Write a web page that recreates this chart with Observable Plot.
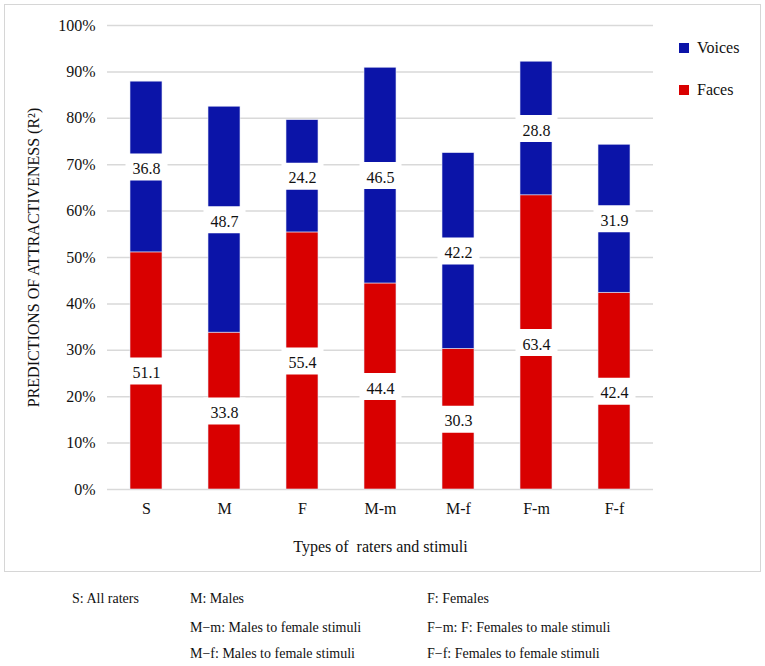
<!DOCTYPE html>
<html>
<head>
<meta charset="utf-8">
<script src="https://cdn.jsdelivr.net/npm/d3@7"></script>
<script src="https://cdn.jsdelivr.net/npm/@observablehq/plot@0.6"></script>
<style>
  body { margin: 0; background: #fff; font-family: "Liberation Serif", "Times New Roman", serif; }
  #wrap { position: relative; width: 765px; height: 666px; }
  #border { position: absolute; left: 4px; top: 4px; width: 755px; height: 566px; border: 1px solid #d6d6d6; pointer-events: none; }
  .leg { position: absolute; left: 679px; font-size: 16px; color: #111; display: flex; align-items: center; }
  .leg span.sw { display: inline-block; width: 10px; height: 10px; margin-right: 8px; }
  .fn { position: absolute; font-size: 14px; color: #111; white-space: nowrap; }
</style>
</head>
<body>
<div id="wrap">
  <div id="chart"></div>
  <div id="border"></div>
</div>
<script>
const categories = ["S", "M", "F", "M-m", "M-f", "F-m", "F-f"];
const faces  = [51.1, 33.8, 55.4, 44.4, 30.3, 63.4, 42.4];
const voices = [36.8, 48.7, 24.2, 46.5, 42.2, 28.8, 31.9];
const seriesNames = ["Faces", "Voices"];
const seriesColors = ["#d90000", "#0b14a8"];
const yTicks = [0, 10, 20, 30, 40, 50, 60, 70, 80, 90, 100];
const footnotes = [
  ["S: All raters", "M: Males", "F: Females"],
  ["", "M\u2212m: Males to female stimuli", "F\u2212m: F: Females to male stimuli"],
  ["", "M\u2212f: Males to female stimuli", "F\u2212f: Females to female stimuli"]
];

const data = [];
seriesNames.forEach((s, si) => {
  const vals = si === 0 ? faces : voices;
  categories.forEach((c, i) => data.push({cat: c, series: s, value: vals[i]}));
});

const labelBox = { draw(ctx, size) { ctx.rect(-21, -13.5, 42, 27); } };

const chart = Plot.plot({
  width: 765,
  height: 575,
  marginLeft: 107,
  marginRight: 112,
  marginTop: 25,
  marginBottom: 86,
  style: { fontFamily: "Liberation Serif, Times New Roman, serif", fontSize: "16px", color: "#111", background: "transparent" },
  x: {
    domain: categories,
    paddingInner: 0.59,
    paddingOuter: 0.295,
    tickSize: 0,
    tickPadding: 13,
    label: "Types of\u00A0 raters and stimuli",
    labelAnchor: "center",
    labelArrow: false,
    labelOffset: 62
  },
  y: {
    domain: [0, 100],
    ticks: yTicks,
    tickFormat: d => d + "%",
    tickSize: 0,
    tickPadding: 12,
    label: "PREDICTIONS OF ATTRACTIVENESS (R\u00B2)",
    labelAnchor: "center",
    labelArrow: false,
    labelOffset: 80
  },
  color: { domain: seriesNames, range: seriesColors },
  marks: [
    Plot.ruleY(yTicks, { stroke: "#d9d9d9", strokeWidth: 1.5 }),
    Plot.barY(data, { x: "cat", y: "value", fill: "series", stroke: "#e4e6f4", strokeWidth: 0.6 }),
    Plot.dot(data, Plot.stackY({ x: "cat", y: "value", symbol: labelBox, fill: "white", stroke: "none", r: 5 })),
    Plot.text(data, Plot.stackY({ x: "cat", y: "value", text: d => d.value.toFixed(1), fill: "#111", fontSize: 16, dy: 2 }))
  ]
});
document.getElementById("chart").appendChild(chart);

// legend (Voices on top, Faces below)
const wrap = document.getElementById("wrap");
[["Voices", 1, 39], ["Faces", 0, 81]].forEach(([name, ci, top]) => {
  const d = document.createElement("div");
  d.className = "leg";
  d.style.top = top + "px";
  d.innerHTML = `<span class="sw" style="background:${seriesColors[ci]}"></span>${name}`;
  wrap.appendChild(d);
});

// footnotes
const colX = [72, 190, 427];
const rowY = [591, 620, 646];
footnotes.forEach((row, r) => row.forEach((t, c) => {
  if (!t) return;
  const d = document.createElement("div");
  d.className = "fn";
  d.style.left = colX[c] + "px";
  d.style.top = rowY[r] + "px";
  d.textContent = t;
  wrap.appendChild(d);
}));
</script>
</body>
</html>
